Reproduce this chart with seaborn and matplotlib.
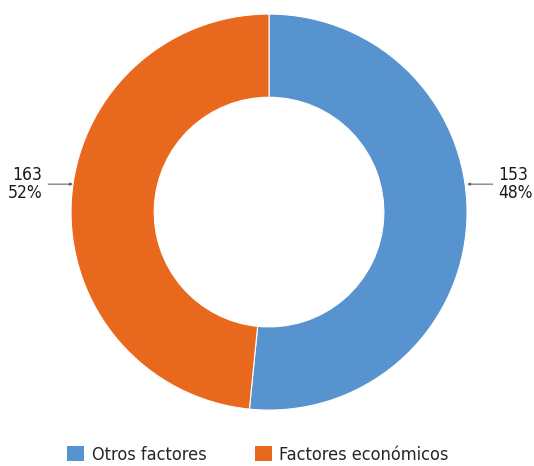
import seaborn as sns
import matplotlib.pyplot as plt
from matplotlib.patches import Patch

categorias = ["Otros factores", "Factores económicos"]
# tamaños de las porciones tal como se dibujan en el gráfico
valores = [163, 153]
# textos de las etiquetas (derecha, izquierda)
etiqueta_valores = [153, 163]
porcentajes = ["48%", "52%"]
colores = ["#5793CE", "#E8691E"]

sns.set_theme(style="white")
plt.rcParams['font.family'] = ['DejaVu Sans']
plt.rcParams['font.stretch'] = 'condensed'

fig = plt.figure(figsize=(5.34, 4.66), dpi=100)
ax = fig.add_axes([0.133, 0.120, 0.7416, 0.8498])

wedges, _ = ax.pie(
    valores,
    colors=colores,
    startangle=90,
    counterclock=False,
    radius=1,
    wedgeprops=dict(width=0.42, edgecolor="white", linewidth=0.8),
)
ax.set_xlim(-1, 1)
ax.set_ylim(-1, 1)
ax.set_aspect("equal")
ax.axis("off")

etiquetas = [f"{v}\n{p}" for v, p in zip(etiqueta_valores, porcentajes)]
flecha = dict(arrowstyle="-|>", color="#666666", lw=0.8,
              mutation_scale=4, shrinkA=2, shrinkB=0)
ax.annotate(etiquetas[0], xy=(1.0, 0.141), xytext=(1.16, 0.141),
            ha="left", va="center", fontsize=12.5, color="#1a1a1a",
            linespacing=1.0, annotation_clip=False, arrowprops=flecha)
ax.annotate(etiquetas[1], xy=(-0.99, 0.141), xytext=(-1.146, 0.141),
            ha="right", va="center", fontsize=12.5, color="#1a1a1a",
            linespacing=1.0, annotation_clip=False, arrowprops=flecha)

handles = [Patch(facecolor=c, edgecolor="none") for c in colores]
fig.legend(handles, categorias, loc="center", bbox_to_anchor=(0.483, 0.024),
           ncol=2, frameon=False, fontsize=13, handlelength=0.94, handleheight=0.94,
           columnspacing=2.7, handletextpad=0.4, borderpad=0)

fig.savefig("out.png", dpi=100)
